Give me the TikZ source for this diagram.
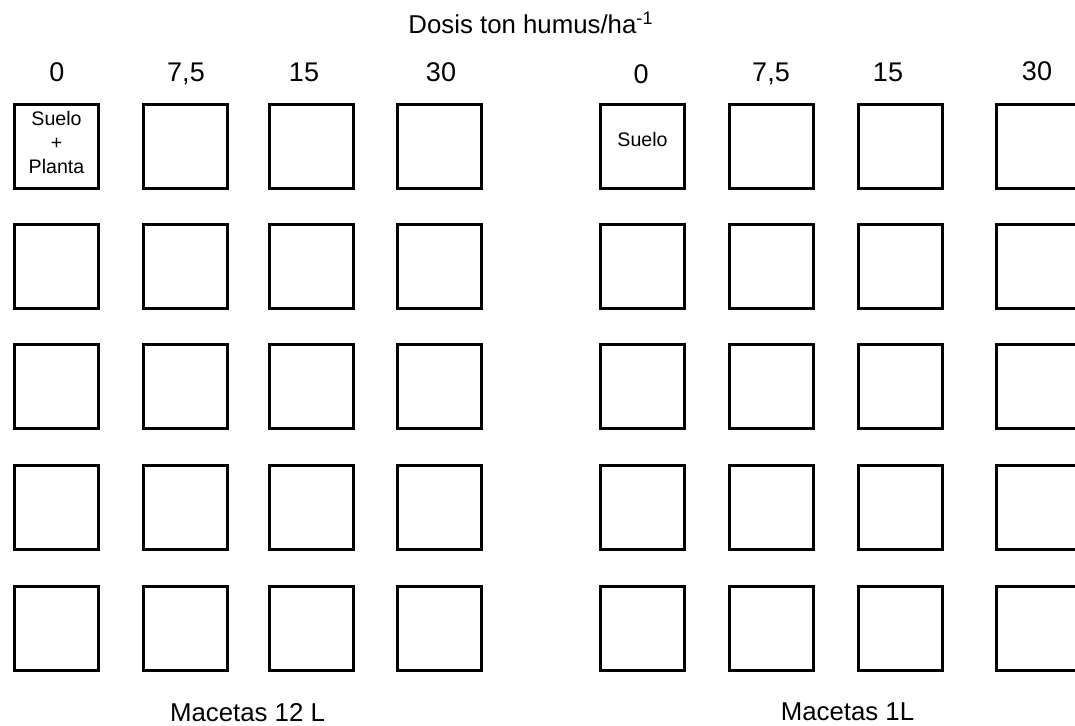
\documentclass[tikz,border=0pt]{standalone}
\usepackage{fontspec}
\setmainfont{Liberation Sans}
\usetikzlibrary{positioning}

\begin{document}
\begin{tikzpicture}[x=0.5pt, y=-0.5pt]
        \tikzstyle{maceta} = [rectangle, draw, line width=1.5pt, minimum size=42pt, inner sep=0pt]
        \tikzstyle{dosis} = [anchor=base, font=\fontsize{13.5}{16}\selectfont]
        \tikzstyle{rotulo} = [anchor=base, font=\fontsize{12.9}{15}\selectfont]
        \tikzstyle{contenido} = [align=center, font=\fontsize{9.8}{12}\selectfont]

        \useasboundingbox (0,0) rectangle (1075,725);
        \clip (0,0) rectangle (1075,725);

        % macetas: g = 12 L, p = 1 L
        \foreach \y [count=\r] in {146,266,386,507,628} {
            \foreach \x [count=\c] in {56.5,185,311.5,439}
                \node [maceta] (g-\r-\c) at (\x,\y) {};
            \foreach \x [count=\c] in {642.5,771.5,900,1038}
                \node [maceta] (p-\r-\c) at (\x,\y) {};
        }

        \node [rotulo] (titulo) at (531,33) {Dosis ton humus/ha\textsuperscript{-1}};

        \node [dosis] (dg-1) at (57,81) {0};
        \node [dosis] (dg-2) at (186,81) {7,5};
        \node [dosis] (dg-3) at (304,81) {15};
        \node [dosis] (dg-4) at (441,81) {30};
        \node [dosis] (dp-1) at (641,83) {0};
        \node [dosis] (dp-2) at (771,81) {7,5};
        \node [dosis] (dp-3) at (888,81) {15};
        \node [dosis] (dp-4) at (1037,80) {30};

        \node [contenido] (suelo-planta) at ([yshift=1.8pt]g-1-1.center) {Suelo\\+\\Planta};
        \node [contenido] (suelo) at ([yshift=3.5pt]p-1-1.center) {Suelo};

        \node [rotulo] (grandes) at (247.5,721) {Macetas 12 L};
        \node [rotulo] (chicas) at (847.5,720) {Macetas 1L};
    \end{tikzpicture}
\end{document}
